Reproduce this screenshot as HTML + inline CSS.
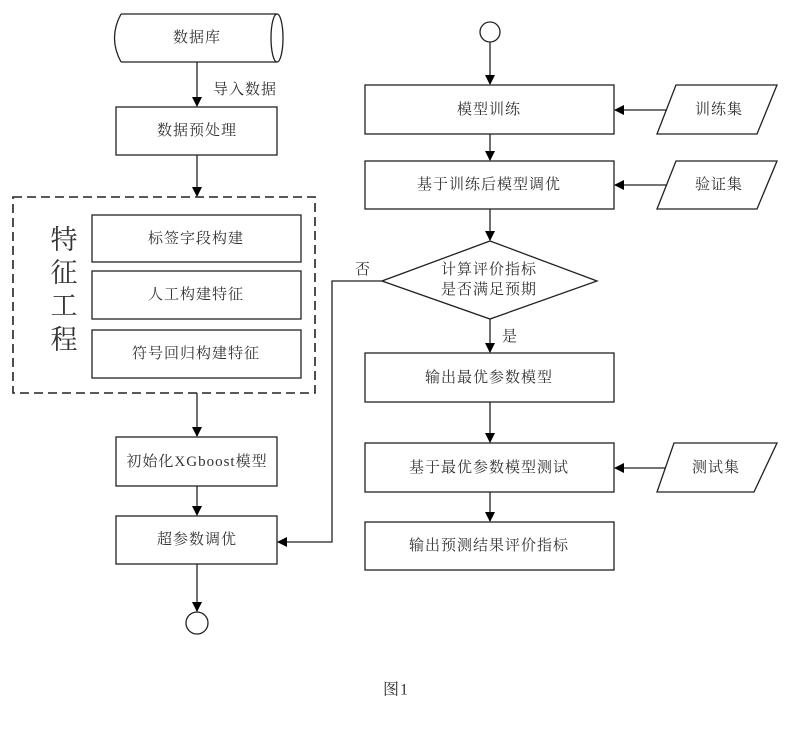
<!DOCTYPE html>
<html><head><meta charset="utf-8"><style>
body{margin:0;background:#fff}
svg text{font-family:"Liberation Serif","Noto Serif CJK SC",serif;fill:#333;font-size:15px;text-anchor:middle;dominant-baseline:central;letter-spacing:1px}
svg text.big{font-size:27px;letter-spacing:0}
</style></head><body>
<svg width="795" height="724" viewBox="0 0 795 724" xmlns="http://www.w3.org/2000/svg">
<defs><marker id="a" markerWidth="10" markerHeight="10" refX="9" refY="5" orient="auto" markerUnits="userSpaceOnUse"><path d="M0,0 L10,5 L0,10 z" fill="#000"/></marker></defs>
<g stroke="#222" stroke-width="1.3" fill="none">
<path d="M121,14 L277,14 M121,62 L277,62 M121,14 Q108,38 121,62"/>
<ellipse cx="277" cy="38" rx="6" ry="24"/>
<line x1="197" y1="62" x2="197" y2="106" marker-end="url(#a)"/>
<rect x="116" y="107" width="161" height="48"/>
<line x1="197" y1="155" x2="197" y2="196" marker-end="url(#a)"/>
<rect x="13" y="197" width="302" height="196" stroke-dasharray="9,5" stroke-width="1.6"/>
<rect x="92" y="215" width="209" height="47"/>
<rect x="92" y="271" width="209" height="48"/>
<rect x="92" y="330" width="209" height="48"/>
<line x1="197" y1="393" x2="197" y2="436" marker-end="url(#a)"/>
<rect x="116" y="437" width="161" height="49"/>
<line x1="197" y1="486" x2="197" y2="515" marker-end="url(#a)"/>
<rect x="116" y="516" width="161" height="48"/>
<line x1="197" y1="564" x2="197" y2="611" marker-end="url(#a)"/>
<circle cx="197" cy="623" r="11"/>
<circle cx="490" cy="32" r="10"/>
<line x1="490" y1="42" x2="490" y2="84" marker-end="url(#a)"/>
<rect x="365" y="85" width="249" height="49"/>
<line x1="490" y1="134" x2="490" y2="160" marker-end="url(#a)"/>
<rect x="365" y="161" width="249" height="48"/>
<line x1="490" y1="209" x2="490" y2="240" marker-end="url(#a)"/>
<path d="M490,241 L597,281 L490,319 L382,281 Z"/>
<line x1="490" y1="319" x2="490" y2="352" marker-end="url(#a)"/>
<rect x="365" y="353" width="249" height="49"/>
<line x1="490" y1="402" x2="490" y2="442" marker-end="url(#a)"/>
<rect x="365" y="443" width="249" height="49"/>
<line x1="490" y1="492" x2="490" y2="521" marker-end="url(#a)"/>
<rect x="365" y="522" width="249" height="48"/>
<polyline points="382,281 332,281 332,542 278,542" marker-end="url(#a)"/>
<path d="M676,85 L777,85 L757,134 L657,134 Z"/>
<path d="M676,161 L777,161 L757,209 L657,209 Z"/>
<path d="M674,443 L777,443 L754,492 L657,492 Z"/>
<line x1="667" y1="110" x2="615" y2="110" marker-end="url(#a)"/>
<line x1="667" y1="185" x2="615" y2="185" marker-end="url(#a)"/>
<line x1="665" y1="468" x2="615" y2="468" marker-end="url(#a)"/>
</g>
<text x="197" y="38">数据库</text>
<text x="245" y="90">导入数据</text>
<text x="197" y="131">数据预处理</text>
<text x="196" y="239">标签字段构建</text>
<text x="196" y="295">人工构建特征</text>
<text x="196" y="354">符号回归构建特征</text>
<text class="big" x="64" y="240">特</text>
<text class="big" x="64" y="273">征</text>
<text class="big" x="64" y="306">工</text>
<text class="big" x="64" y="340">程</text>
<text x="197" y="462">初始化XGboost模型</text>
<text x="197" y="540">超参数调优</text>
<text x="489" y="110">模型训练</text>
<text x="489" y="185">基于训练后模型调优</text>
<text x="489" y="270">计算评价指标</text>
<text x="489" y="290">是否满足预期</text>
<text x="363" y="270">否</text>
<text x="510" y="337">是</text>
<text x="489" y="378">输出最优参数模型</text>
<text x="489" y="468">基于最优参数模型测试</text>
<text x="489" y="546">输出预测结果评价指标</text>
<text x="719" y="110">训练集</text>
<text x="719" y="185">验证集</text>
<text x="716" y="468">测试集</text>
<text x="396" y="690" style="font-size:16px">图1</text>
</svg>
</body></html>
